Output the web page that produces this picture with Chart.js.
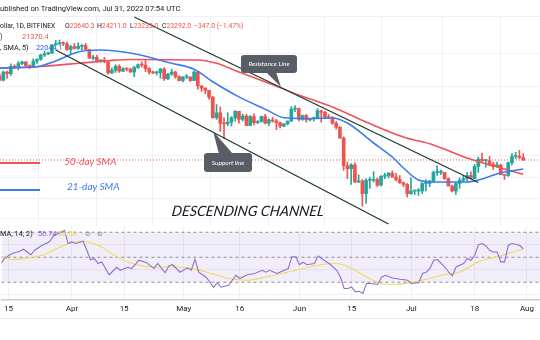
<!DOCTYPE html>
<html>
<head>
<meta charset="utf-8">
<script src="https://cdn.jsdelivr.net/npm/chart.js@4.4.0/dist/chart.umd.min.js"></script>
<style>
  body { margin: 0; width: 540px; height: 340px; overflow: hidden; background: #fff; position: relative; font-family: Roboto, sans-serif; }
  canvas { position: absolute; left: 0; }
  #price { top: 16px; }
  #rsi { top: 226px; }
  .t { position: absolute; white-space: pre; font-size: 7.3px; line-height: 1; color: #131722; z-index: 5; }
  .s { font-size: 6.8px; }
  .red { color: #ef5350; }
  .blue { color: #2962ff; }
  .ann { position: absolute; white-space: pre; font-family: Lato, sans-serif; font-style: italic; line-height: 1; z-index: 5; }
  .seg { position: absolute; left: 0; width: 40px; z-index: 5; }
</style>
</head>
<body>
<div class="t" style="left:0;top:5px;font-size:7.6px">ublished on TradingView.com, Jul 31, 2022 07:54 UTC</div>
<div class="t s" style="left:0;top:22.5px">ollar, 1D, BITFINEX</div>
<div class="t s" style="left:65px;top:22.5px">O<span class="red">23640.3</span></div>
<div class="t s" style="left:97px;top:22.5px">H<span class="red">24211.0</span></div>
<div class="t s" style="left:130px;top:22.5px">L<span class="red">23233.0</span></div>
<div class="t s" style="left:162px;top:22.5px">C<span class="red">23292.0</span></div>
<div class="t s red" style="left:194px;top:22.5px">−347.0 (−1.47%)</div>
<div class="t" style="left:0;top:33px">)</div>
<div class="t red" style="left:22px;top:33px">21370.4</div>
<div class="t" style="left:0;top:44px">, SMA, 5)</div>
<div class="t blue" style="left:36px;top:44px">22044.1</div>

<div class="t" style="left:0;top:230px">MA; 14; 2)</div>
<div class="t" style="left:38px;top:230px;color:#7e57c2">56.74</div>
<div class="t" style="left:58px;top:230px;color:#e8cf52">56.56</div>
<div class="t" style="left:85px;top:230px;color:#8a8d96">⊘</div>
<div class="t" style="left:97px;top:230px;color:#8a8d96">⊘</div>

<div class="seg" style="top:162px;height:2px;background:#f0515c"></div>
<div class="ann" style="left:64px;top:156px;font-size:10px;color:#f0515c">50-day SMA</div>
<div class="seg" style="top:189px;height:1.6px;background:#3d7bf0"></div>
<div class="ann" style="left:67px;top:181px;font-size:10px;color:#3d7bf0">21-day SMA</div>
<div class="ann" style="left:172px;top:203.5px;font-size:14.3px;color:#131722;transform:skewX(-8deg)">DESCENDING CHANNEL</div>
<div style="position:absolute;left:0;top:318px;width:540px;height:1px;background:#e6e8ee"></div>

<svg width="540" height="340" style="position:absolute;left:0;top:0;z-index:4">
  <rect x="241" y="55" width="56" height="18" rx="3" fill="#595d66"/>
  <polygon points="266,72 276,72 281,87" fill="#595d66"/>
  <text x="269" y="66.3" font-family="Lato, sans-serif" font-style="italic" font-size="6.5" fill="#fff" text-anchor="middle">Resistance Line</text>
  <rect x="204" y="153" width="48" height="19" rx="3" fill="#595d66"/>
  <polygon points="219,154 233,154 213,131" fill="#595d66"/>
  <text x="228" y="165" font-family="Lato, sans-serif" font-style="italic" font-size="6.5" fill="#fff" text-anchor="middle">Support line</text>
  <rect x="248.5" y="142.5" width="2" height="1.5" fill="#ef5350"/>
</svg>

<canvas id="price" width="540" height="210"></canvas>
<canvas id="rsi" width="540" height="94"></canvas>

<script>
// daily candles, BTC/USD (Bitfinex), 13 Mar - 31 Jul 2022
var dates = [
  '03-13','03-14','03-15','03-16','03-17','03-18','03-19','03-20','03-21','03-22','03-23','03-24','03-25','03-26','03-27','03-28','03-29','03-30','03-31',
  '04-01','04-02','04-03','04-04','04-05','04-06','04-07','04-08','04-09','04-10','04-11','04-12','04-13','04-14','04-15','04-16','04-17','04-18','04-19','04-20','04-21','04-22','04-23','04-24','04-25','04-26','04-27','04-28','04-29','04-30',
  '05-01','05-02','05-03','05-04','05-05','05-06','05-07','05-08','05-09','05-10','05-11','05-12','05-13','05-14','05-15','05-16','05-17','05-18','05-19','05-20','05-21','05-22','05-23','05-24','05-25','05-26','05-27','05-28','05-29','05-30','05-31',
  '06-01','06-02','06-03','06-04','06-05','06-06','06-07','06-08','06-09','06-10','06-11','06-12','06-13','06-14','06-15','06-16','06-17','06-18','06-19','06-20','06-21','06-22','06-23','06-24','06-25','06-26','06-27','06-28','06-29','06-30',
  '07-01','07-02','07-03','07-04','07-05','07-06','07-07','07-08','07-09','07-10','07-11','07-12','07-13','07-14','07-15','07-16','07-17','07-18','07-19','07-20','07-21','07-22','07-23','07-24','07-25','07-26','07-27','07-28','07-29','07-30','07-31'
];
var open = [
  38800,37800,39700,39300,41100,40900,41800,42200,41300,41000,42400,42900,44000,44300,44500,46800,47100,47400,47100,
  45500,46300,45800,46400,46600,45500,43200,43400,42300,42700,42200,39500,40100,41100,39900,40500,40400,39700,40800,41500,41400,40500,39700,39500,39500,40400,38100,39200,39700,38600,
  37700,38500,38500,37700,39700,36500,36000,35500,34100,30100,31000,29100,29000,29300,30100,31300,29800,30400,28700,30300,29200,29400,30300,29100,29700,29500,29200,28600,29000,29500,31700,
  31800,29800,30500,29700,29900,29900,31400,31100,30200,30100,29100,28400,26600,22500,22100,22600,20400,20500,19000,20600,20600,20700,20000,21100,21200,21500,21000,20700,20300,20100,
  19000,19300,19300,19300,20200,20200,20500,21600,21600,21600,20800,19900,19300,20200,20600,20800,21200,20800,22400,23400,23200,23200,22700,22400,22600,21300,21200,22900,23800,23800,23640.3
];
var high = [
  39300,39900,39900,41700,41500,42300,42400,42300,41500,43000,43000,44200,45100,44800,46900,48100,48200,47700,47600,
  46700,47200,47400,46900,47200,45500,43900,43900,42800,43400,42400,40700,41500,41500,40800,40700,40600,41100,41700,42200,42900,40800,39900,39900,40600,40800,39400,40400,39900,38800,
  38700,39100,38600,40000,39800,36600,36100,35500,34300,32600,32100,30100,31000,30300,31400,31300,30800,30700,30500,30800,29600,30400,30700,29900,30200,29800,29300,29000,29500,32200,32400,
  31900,30600,30700,29900,30200,31800,31500,31300,30700,30300,29400,28500,26800,23000,22800,22900,21300,20700,20800,21000,21700,20900,21200,21500,21600,21800,21500,21200,20400,20200,
  20900,19400,19600,20300,20700,20600,21800,22500,21900,21600,20900,20000,20300,20900,21200,21600,21700,22700,23700,24300,23400,23800,23000,23000,22700,21300,23000,24200,24400,24700,24211
];
var low = [
  37600,37600,38200,38900,40500,40200,41500,40900,40500,40900,41800,42600,43600,44100,44400,46700,46900,46600,45200,
  44200,45600,45500,45100,45400,43100,42700,42100,42100,42000,39200,39300,39600,39600,39800,40000,39600,38600,40600,40900,39800,39200,39300,39000,38200,37700,37900,38900,38200,37600,
  37400,38100,37500,37700,35800,35300,34800,33700,30000,29800,27700,26600,28700,28600,29500,29100,29500,28700,28700,28800,29000,29300,29000,28700,29300,28000,28300,28500,28800,29400,31200,
  29500,29600,29300,29500,29500,29900,29300,29900,30000,28900,28100,26600,21900,20800,20100,20300,20300,17600,17900,19600,20400,19800,19900,20800,20900,21000,20500,20200,19800,18600,
  18900,18900,18800,19000,19300,19800,20300,21200,21300,20700,19900,19200,18900,19600,20400,20500,20800,20800,21600,23000,22300,22500,22000,22300,21300,20700,21100,22600,23500,23500,23233
];
var close = [
  37800,39700,39300,41100,40900,41800,42200,41300,41000,42400,42900,44000,44300,44500,46800,47100,47400,47100,45500,
  46300,45800,46400,46600,45500,43200,43400,42300,42700,42200,39500,40100,41100,39900,40500,40400,39700,40800,41500,41400,40500,39700,39500,39500,40400,38100,39200,39700,38600,37700,
  38500,38500,37700,39700,36500,36000,35500,34100,30100,31000,29100,29000,29300,30100,31300,29800,30400,28700,30300,29200,29400,30300,29100,29700,29500,29200,28600,29000,29500,31700,31800,
  29800,30500,29700,29900,29900,31400,31100,30200,30100,29100,28400,26600,22500,22100,22600,20400,20500,19000,20600,20600,20700,20000,21100,21200,21500,21000,20700,20300,20100,19000,
  19300,19300,19300,20200,20200,20500,21600,21600,21600,20800,19900,19300,20200,20600,20800,21200,20800,22400,23400,23200,23200,22700,22400,22600,21300,21200,22900,23800,23800,23640.3,23292
];

// moving averages
var sma50Dates = ['03-13','03-24','04-04','04-11','04-17','05-05','05-10','05-16','05-24','06-01','06-10','06-19','06-29','07-07','07-16','07-25','07-31'];
var sma50 = [40680,41050,41930,42520,42830,42700,41860,39700,37080,34540,32115,29325,26777,25510,23576,22190,21370.4];
var sma21Dates = ['03-13','03-23','03-28','04-03','04-09','04-13','04-19','04-28','05-04','05-09','05-16','05-23','05-28','06-03','06-10','06-14','06-21','06-26','06-29','07-03','07-07','07-16','07-19','07-25','07-31'];
var sma21 = [40680,41000,42440,44820,45365,45090,44150,41860,40360,37430,34150,31700,30100,29950,30045,29145,25820,23720,22190,20635,20385,20385,20635,21527,22044.1];

// hand-drawn trend lines (start / end)
var resistanceDates = ['04-18', '07-19'];
var resistancePrice = [55400, 20320];
var supportDates = ['03-28', '06-25'];
var supportPrice = [45365, 15804];

// RSI (14) and its moving average
var rsiDates = ['03-13','03-14','03-16','03-18','03-19','03-21','03-22','03-24','03-26','03-27','03-29','03-30','03-31','04-01','04-02','04-04','04-05','04-06','04-07','04-08','04-09','04-11','04-13','04-14','04-16','04-17','04-19','04-21','04-23','04-24','04-26','04-27','04-28','04-30','05-02','05-03','05-04','05-05','05-07','05-09','05-10','05-11','05-13','05-15','05-16','05-18','05-20','05-22','05-23','05-24','05-26','05-29','05-30','05-31','06-01','06-02','06-03','06-05','06-06','06-08','06-09','06-11','06-12','06-13','06-14','06-15','06-16','06-17','06-18','06-19','06-20','06-22','06-23','06-24','06-26','06-28','06-30','07-01','07-03','07-04','07-05','07-06','07-07','07-08','07-10','07-11','07-12','07-13','07-15','07-16','07-17','07-18','07-19','07-20','07-21','07-22','07-23','07-24','07-25','07-26','07-27','07-28','07-30','07-31'];
var rsi = [45,49.5,53,54.8,56.4,52,55.6,59.6,62.3,67,69.8,71.6,61,62.3,61,62.8,55.6,48,49,45,46.3,36,42,39.6,42,41,47.6,45.7,41,45,37.5,43,44,38,41.5,39.6,48.4,38,34,26,29.7,26,27.6,35.6,33,36,37,39.6,38,39.6,37,41,50.3,50.3,44,46,44,45,51,46.8,45,39.6,34,25,25,26.2,22.3,22.8,21,29,29,28.2,34,35.6,33.4,32.4,31.6,29,29.7,37,38,41,47.6,48.2,42.2,38.2,35,42.2,45,49,47.6,51.6,60,61,59,55.6,54.2,54.2,46.3,46.3,59.6,61,59.6,56.74];
var rsiMaDates = ['03-13','03-16','03-19','03-24','03-28','04-01','04-04','04-09','04-13','04-18','04-22','04-27','05-02','05-07','05-13','05-18','05-23','05-29','06-02','06-07','06-11','06-15','06-19','06-23','06-26','07-01','07-05','07-10','07-14','07-19','07-24','07-27','07-31'];
var rsiMa = [50.3,48,49,51.6,57,61.8,62.8,58.2,50.3,44.2,42.2,42.2,41.5,38.2,33,31.6,34.2,38.2,41,44.2,45,41,34.2,29,28.2,29.7,32.4,36.2,38.2,46.3,50.3,53,56.56];
var rsiLevels = [70, 50, 30];

// axis
var tickDates = ['03-15','04-01','04-15','05-01','05-16','06-01','06-15','07-01','07-18','08-01'];
var tickLabels = ['15','Apr','15','May','16','Jun','15','Jul','18','Aug'];
var priceGrid = [55747, 44500, 36300, 32200, 28000, 24000, 20900, 18400, 16300];
var rsiGrid = [20, 40, 60];

var GREEN = '#26a69a', RED = '#ef5350';
var T0 = Date.UTC(2022, 2, 15);
function day(md) {
  var p = md.split('-');
  return (Date.UTC(2022, +p[0] - 1, +p[1]) - T0) / 86400000;
}
function pts(ds, vs) {
  return ds.map(function(d, i) { return {x: day(d), y: vs[i]}; });
}
var tickDays = tickDates.map(day);
var xMin = -1.9, xMax = 142.5;
var lastClose = close[close.length - 1];

var candleColor = function(ctx) {
  var i = ctx.dataIndex;
  return close[i] >= open[i] ? GREEN : RED;
};

new Chart(document.getElementById('price'), {
  type: 'bar',
  data: {
    datasets: [
      {
        type: 'line', data: [{x: xMin, y: lastClose}, {x: xMax, y: lastClose}],
        borderColor: RED, borderWidth: 1, borderDash: [1, 2], pointRadius: 0, order: 9
      },
      {
        data: dates.map(function(d, i) { return {x: day(d), y: [low[i], high[i]]}; }),
        backgroundColor: candleColor, barThickness: 1, grouped: false, order: 8
      },
      {
        data: dates.map(function(d, i) { return {x: day(d), y: [open[i], close[i]]}; }),
        backgroundColor: candleColor, barThickness: 3, minBarLength: 1, grouped: false, order: 7
      },
      {
        type: 'line', data: pts(sma50Dates, sma50), borderColor: '#f0515c', borderWidth: 1.6,
        pointRadius: 0, cubicInterpolationMode: 'monotone', order: 4
      },
      {
        type: 'line', data: pts(sma21Dates, sma21), borderColor: '#3d7bf0', borderWidth: 1.6,
        pointRadius: 0, cubicInterpolationMode: 'monotone', order: 3
      },
      {
        type: 'line', data: pts(resistanceDates, resistancePrice), borderColor: '#1f3a2c',
        borderWidth: 1.3, pointRadius: 0, order: 2
      },
      {
        type: 'line', data: pts(supportDates, supportPrice), borderColor: '#1f3a2c',
        borderWidth: 1.3, pointRadius: 0, order: 1
      }
    ]
  },
  options: {
    responsive: false, animation: false, events: [],
    layout: { padding: 0 },
    plugins: { legend: { display: false }, tooltip: { enabled: false } },
    scales: {
      x: {
        type: 'linear', min: xMin, max: xMax, bounds: 'data', offset: false,
        grid: { color: '#eef1f7', drawTicks: false }, border: { display: false },
        ticks: { display: false },
        afterBuildTicks: function(s) { s.ticks = tickDays.map(function(v) { return {value: v}; }); }
      },
      y: {
        type: 'logarithmic', min: 15613, max: 55747,
        grid: { color: '#eef1f7', drawTicks: false }, border: { display: false },
        ticks: { display: false },
        afterBuildTicks: function(s) { s.ticks = priceGrid.map(function(v) { return {value: v}; }); }
      }
    }
  }
});

function level(v, extra) {
  var ds = {
    type: 'line', data: [{x: xMin, y: v}, {x: xMax, y: v}], borderColor: '#8c8f98',
    borderWidth: 1, borderDash: [3, 3], pointRadius: 0, fill: false, order: 5
  };
  for (var k in extra) ds[k] = extra[k];
  return ds;
}

new Chart(document.getElementById('rsi'), {
  type: 'line',
  data: {
    datasets: [
      level(rsiLevels[0], {}),
      level(rsiLevels[2], { fill: '-1', backgroundColor: 'rgba(126,87,194,0.1)' }),
      level(rsiLevels[1], {}),
      {
        data: pts(rsiMaDates, rsiMa), borderColor: '#f2d95c', borderWidth: 1.1,
        pointRadius: 0, cubicInterpolationMode: 'monotone', order: 2
      },
      {
        data: pts(rsiDates, rsi), borderColor: '#8e6fd0', borderWidth: 1.1,
        pointRadius: 0, tension: 0, order: 1
      }
    ]
  },
  options: {
    responsive: false, animation: false, events: [],
    layout: { padding: 0 },
    plugins: { legend: { display: false }, tooltip: { enabled: false } },
    scales: {
      x: {
        type: 'linear', min: xMin, max: xMax, bounds: 'data', offset: false,
        grid: { color: '#eef1f7', drawTicks: false },
        border: { display: true, color: '#c8cbd2', width: 1.5 },
        ticks: {
          autoSkip: false, maxRotation: 0, padding: 4, color: '#131722',
          font: { family: 'Roboto', size: 8 },
          callback: function(v) { var i = tickDays.indexOf(v); return i < 0 ? '' : tickLabels[i]; }
        },
        afterBuildTicks: function(s) { s.ticks = tickDays.map(function(v) { return {value: v}; }); },
        afterFit: function(s) { s.height = 20; }
      },
      y: {
        type: 'linear', min: 15.8, max: 75,
        grid: { color: '#eef1f7', drawTicks: false }, border: { display: false },
        ticks: { display: false },
        afterBuildTicks: function(s) { s.ticks = rsiGrid.map(function(v) { return {value: v}; }); }
      }
    }
  }
});
</script>
</body>
</html>
